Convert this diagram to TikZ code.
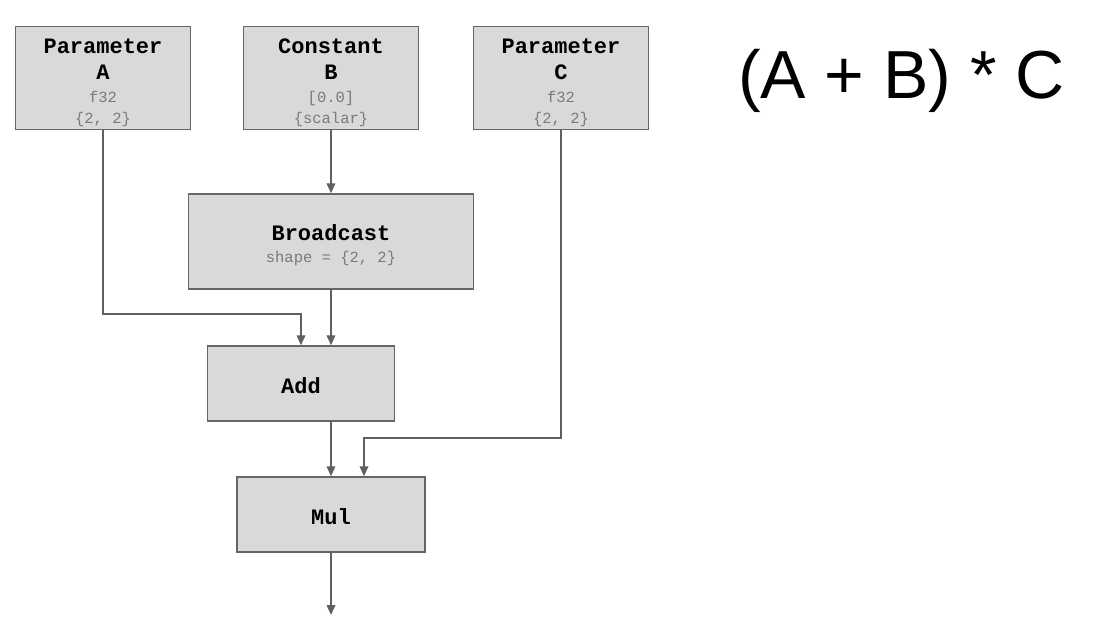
\documentclass[tikz,border=0pt]{standalone}
\usepackage{fontspec}
\usepackage{xcolor}
\usepackage{tikz}
\usetikzlibrary{arrows.meta}
\setmainfont{Liberation Sans}
\setmonofont{Liberation Mono}
\definecolor{boxgray}{HTML}{D9D9D9}
\definecolor{edgegray}{HTML}{666666}
\definecolor{linegray}{HTML}{5F5F5F}
\definecolor{textgray}{HTML}{7A7A7A}
\newcommand{\detail}[1]{{\mdseries\fontsize{15.5}{21}\selectfont\color{textgray}#1}}
\newcommand{\tstrut}[1]{\rule{0pt}{#1}}

\begin{document}
\begin{tikzpicture}[x=1pt, y=1pt,
  op/.style={draw=edgegray, fill=boxgray, line width=1.4pt, align=center, inner sep=0pt,
    font=\ttfamily\bfseries\fontsize{22}{26}\selectfont},
  link/.style={draw=linegray, line width=2pt, -{Triangle[length=10pt, width=8.5pt]}}]
  \useasboundingbox (0,0) rectangle (1093,-640);
  % inputs
  \node[op, minimum width=175pt, minimum height=103pt] (A) at (103,-77.7)
    {\tstrut{24.5pt}Parameter\\A\\[-3pt]\detail{f32}\\[-5pt]\detail{\{2, 2\}}};
  \node[op, minimum width=175pt, minimum height=103pt] (B) at (331,-77.7)
    {\tstrut{24.5pt}Constant\\B\\[-3pt]\detail{[0.0]}\\[-5pt]\detail{\{scalar\}}};
  \node[op, minimum width=175pt, minimum height=103pt] (C) at (561,-77.7)
    {\tstrut{24.5pt}Parameter\\C\\[-3pt]\detail{f32}\\[-5pt]\detail{\{2, 2\}}};
  % ops
  \node[op, minimum width=285pt, minimum height=95pt] (bcast) at (331,-241.5)
    {\tstrut{24pt}Broadcast\\[-4pt]\detail{shape = \{2, 2\}}};
  \node[op, minimum width=187pt, minimum height=75pt] (add) at (301,-383.5) {\tstrut{20pt}Add};
  \node[op, minimum width=188pt, minimum height=75pt] (mul) at (331,-514.5) {\tstrut{20pt}Mul};
  \coordinate (out) at (331,-615);
  % formula
  \node[anchor=base, inner sep=0pt, font=\fontsize{68}{82}\selectfont] (expr) at (901.5,-98) {(A + B) * C};
  % edges
  \draw[link] (A.south) |- ([yshift=31pt]add.north) -- (add.north);
  \draw[link] (B.south) -- (bcast.north);
  \draw[link] (bcast.south) -- (bcast.south |- add.north);
  \draw[link] (add.south -| mul.north) -- (mul.north);
  \draw[link] (C.south) |- ([xshift=33pt, yshift=38pt]mul.north) -- ([xshift=33pt]mul.north);
  \draw[link] (mul.south) -- (out);
\end{tikzpicture}
\end{document}
